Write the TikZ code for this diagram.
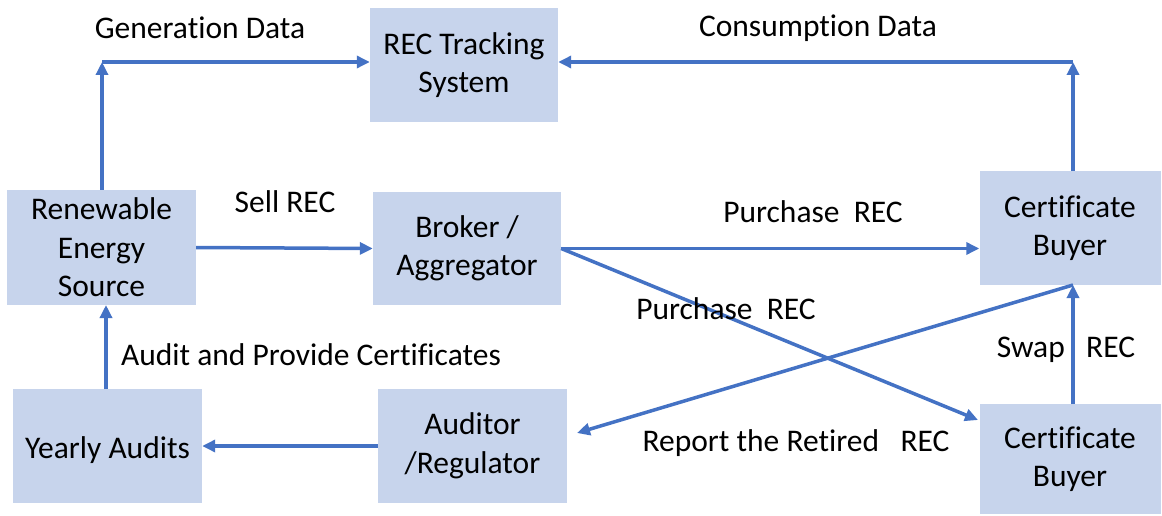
\documentclass[tikz,border=0pt]{standalone}
\usepackage{fontspec}
\setmainfont{Carlito}[Ligatures={NoCommon}]
\usetikzlibrary{arrows.meta,calc}
\definecolor{boxfill}{HTML}{C7D4EC}
\definecolor{arrowblue}{HTML}{4472C4}
\begin{document}
\begin{tikzpicture}[x=1pt,y=-1pt,
  box/.style={fill=boxfill,draw=none,align=center,inner sep=0pt,
    font=\fontsize{31.5}{38.5}\selectfont,
    execute at begin node={\rule{0pt}{30pt}}},
  lbl/.style={inner sep=0pt,font=\fontsize{31.5}{36}\selectfont},
  arr/.style={draw=arrowblue,line width=3.5pt,-{Triangle[length=13pt,width=12pt]}}]
\useasboundingbox (0,0) rectangle (1162,516);
% boxes
\node[box,minimum width=188pt,minimum height=114pt] (rec) at (464,65) {REC Tracking\\System};
\node[box,minimum width=189pt,minimum height=115pt] (res) at (101.5,247.5) {Renewable\\Energy\\Source};
\node[box,minimum width=188pt,minimum height=113pt] (broker) at (467,248.5) {Broker /\\Aggregator};
\node[box,minimum width=181pt,minimum height=114pt] (buy1) at (1070,228) {Certificate\\Buyer};
\node[box,minimum width=181pt,minimum height=110pt] (buy2) at (1070,459) {Certificate\\Buyer};
\node[box,minimum width=189pt,minimum height=114pt] (yearly) at (107.5,446) {Yearly Audits};
\node[box,minimum width=189pt,minimum height=114pt] (auditor) at (472.5,446) {Auditor\\/Regulator};
% coordinates
\coordinate (gc) at (102,62);
\coordinate (cc) at (1073,62);
\coordinate (b1s) at (1073,285);
\coordinate (b1n) at (1073,171);
\coordinate (b2n) at (1073,404);
\coordinate (b2in) at (978,420);
\coordinate (audin) at (577,433);
\coordinate (ys) at (106,389);
\coordinate (rs) at (106,305);
% connectors
\draw[arr] (res.north -| gc) -- (gc);
\draw[arr] (gc) -- (gc -| rec.west);
\draw[arr] (b1n) -- (cc);
\draw[arr] (cc) -- (cc -| rec.east);
\draw[arr] (res.east) -- (broker.west);
\draw[arr] (broker.east) -- (broker.east -| buy1.west);
\draw[arr] (broker.east) -- (b2in);
\draw[arr] (b1s) -- (audin);
\draw[arr] (b2n) -- (b1s);
\draw[arr] (ys) -- (rs);
\draw[arr] (auditor.west) -- (yearly.east);
% labels
\node[lbl] (lgen) at (200,28) {Generation Data};
\node[lbl] (lcon) at (818,28) {Consumption Data};
\node[lbl] (lsell) at (285,202) {Sell REC};
\node[lbl] (lp1) at (813,212) {Purchase\ \ REC};
\node[lbl] (lp2) at (726,309) {Purchase\ \ REC};
\node[lbl] (lswap) at (1066,350) {Swap\ \ \ REC};
\node[lbl] (laudit) at (311,355) {Audit and Provide Certificates};
\node[lbl] (lrep) at (796,443) {Report the Retired\ \ \ REC};
\end{tikzpicture}
\end{document}
